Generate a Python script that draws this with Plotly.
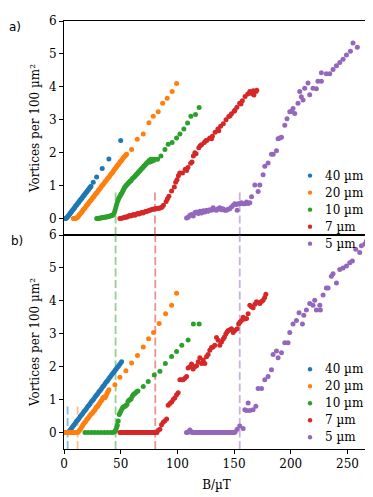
import plotly.graph_objects as go
from plotly.subplots import make_subplots

# ---- data (B in uT, vortices per 100 um^2) ----
names = ['40 µm', '20 µm', '10 µm', '7 µm', '5 µm']
colors = ['#1f77b4', '#ff7f0e', '#2ca02c', '#d62728', '#9467bd']
dash_colors = ['rgba(31,119,180,0.5)', 'rgba(255,127,14,0.5)', 'rgba(44,160,44,0.5)',
               'rgba(214,39,40,0.5)', 'rgba(148,103,189,0.5)']

# panel a)
a_40_B = [1.2, 2.0, 2.8, 3.5, 4.2, 5.0, 5.7, 6.4, 7.1, 7.9, 8.6, 9.3, 10.0, 10.8, 11.5, 12.2, 12.9,
          13.7, 14.4, 15.1, 15.8, 16.6, 17.3, 18.0, 18.7, 19.5, 20.2, 20.9, 21.6, 22.4, 23.1, 23.8,
          25.8, 28.8, 33.7, 39.6, 50.0]
a_40_v = [0.0, 0.01, 0.04, 0.07, 0.1, 0.14, 0.17, 0.2, 0.24, 0.27, 0.3, 0.33, 0.37, 0.4, 0.43, 0.47,
          0.49, 0.53, 0.56, 0.59, 0.62, 0.66, 0.69, 0.72, 0.75, 0.79, 0.82, 0.85, 0.88, 0.92, 0.95, 0.98,
          1.1, 1.26, 1.52, 1.81, 2.37]

a_20_B = [8.2, 9.0, 9.8, 10.6, 11.4, 12.2, 13.1, 14.0, 14.9, 15.8, 16.7, 17.6, 18.5, 19.4, 20.3,
          21.2, 22.1, 23.0, 23.9, 24.8, 25.7, 26.6, 27.5, 28.4, 29.3, 30.2, 31.1, 32.0, 32.9, 33.8,
          34.7, 35.6, 36.5, 37.4, 38.3, 39.2, 40.1, 41.0, 41.9, 42.8, 43.7, 44.6, 45.5, 46.4, 47.3,
          48.2, 49.1, 50.0, 50.9, 51.8, 52.7, 53.6, 54.5, 55.2,
          59.6, 64.6, 69.9, 74.9, 78.7, 83.1, 87.0, 91.0, 95.4, 99.3]
a_20_v = [0.0, 0.0, 0.0, 0.01, 0.03, 0.05, 0.09, 0.13, 0.17, 0.2, 0.25, 0.29, 0.32, 0.37, 0.41,
          0.44, 0.49, 0.53, 0.56, 0.61, 0.65, 0.68, 0.73, 0.77, 0.8, 0.85, 0.89, 0.92, 0.97, 1.01,
          1.04, 1.09, 1.13, 1.16, 1.21, 1.25, 1.28, 1.33, 1.37, 1.4, 1.45, 1.5, 1.53, 1.58, 1.62,
          1.65, 1.7, 1.74, 1.77, 1.82, 1.86, 1.89, 1.93, 1.95,
          2.1, 2.41, 2.57, 2.91, 3.11, 3.24, 3.5, 3.65, 3.86, 4.1]

a_10_B = [28.8, 29.8, 30.8, 31.8, 32.8, 33.8, 34.8, 35.8, 36.8, 37.8, 38.8, 39.8, 40.8, 41.8, 42.8,
          43.6, 44.4, 45.1, 45.8, 46.5, 47.2, 47.9, 48.6, 49.3, 50.0, 50.7, 51.4, 52.1, 52.8, 53.5,
          54.2, 55.0, 55.8, 56.6, 57.4, 58.2, 59.0, 59.8, 60.6, 61.4, 62.2, 63.0, 63.8, 64.6, 65.4,
          66.2, 67.0, 67.8, 68.6, 69.4, 70.2, 71.0, 71.8, 72.6, 73.4, 74.2, 75.0, 75.8, 76.6, 77.4,
          78.2, 79.0, 80.0, 82.5, 85.5, 89.0, 91.9, 95.4, 99.3, 102.2, 105.7, 109.0, 111.9, 116.0, 119.2]
a_10_v = [0.0, 0.01, 0.0, 0.02, 0.02, 0.03, 0.03, 0.04, 0.05, 0.05, 0.06, 0.07, 0.08, 0.09, 0.1,
          0.13, 0.18, 0.26, 0.35, 0.44, 0.52, 0.58, 0.63, 0.68, 0.72, 0.76, 0.8, 0.85, 0.9, 0.95,
          0.98, 1.01, 1.04, 1.07, 1.1, 1.13, 1.15, 1.19, 1.22, 1.25, 1.27, 1.31, 1.34, 1.36, 1.4,
          1.43, 1.45, 1.49, 1.52, 1.54, 1.58, 1.61, 1.63, 1.67, 1.7, 1.72, 1.76, 1.72, 1.8, 1.74,
          1.8, 1.76, 1.8, 1.8, 1.9, 2.1, 2.26, 2.31, 2.45, 2.57, 2.72, 2.9, 3.11, 3.16, 3.37]

a_7_B = [49.3, 50.5, 51.7, 52.9, 54.1, 55.3, 56.5, 57.7, 58.9, 60.1, 61.3, 62.5, 63.7, 64.9, 66.1,
         67.3, 68.5, 69.7, 70.9, 72.1, 73.3, 74.5, 75.7, 76.9, 78.1, 79.3, 80.5, 81.7, 82.9, 84.1,
         85.3, 86.5, 87.7, 90.1, 91.3, 92.5, 94.9, 97.3, 98.5, 99.7, 100.9, 102.1, 104.5, 106.9,
         108.1, 109.3, 111.7, 112.9, 114.1, 115.4, 116.5, 118.9, 120.1, 121.3, 123.7, 125.0, 126.1,
         128.5, 130.1, 130.9, 133.3, 135.7, 136.5, 138.1, 140.5, 142.9, 145.3, 146.5, 147.7, 150.1,
         150.7, 152.5, 154.9, 156.1, 157.3, 159.7, 162.1, 163.9, 165.7, 166.9, 167.5, 169.3, 170.0]
a_7_v = [0.0, 0.01, 0.02, 0.03, 0.05, 0.04, 0.07, 0.09, 0.08, 0.1, 0.12, 0.1, 0.13, 0.15, 0.14,
         0.16, 0.18, 0.17, 0.2, 0.21, 0.22, 0.24, 0.25, 0.27, 0.28, 0.29, 0.3, 0.3, 0.31, 0.31,
         0.33, 0.35, 0.4, 0.52, 0.6, 0.68, 0.84, 0.96, 1.1, 1.18, 1.3, 1.38, 1.38, 1.5,
         1.46, 1.55, 1.68, 1.72, 1.9, 2.0, 1.97, 2.15, 2.21, 2.24, 2.31, 2.36, 2.38,
         2.45, 2.42, 2.5, 2.62, 2.72, 2.67, 2.8, 2.88, 3.0, 3.1, 3.12, 3.18, 3.26,
         3.29, 3.38, 3.5, 3.48, 3.58, 3.71, 3.78, 3.86, 3.8, 3.88, 3.75, 3.86, 3.9]

a_5_B = [108.1, 109.5, 111.0, 112.5, 114.0, 115.5, 116.9, 118.4, 119.9, 121.3, 122.8, 124.2, 125.7,
         127.2, 128.6, 130.1, 131.5, 133.0, 134.5, 135.9, 137.4, 138.8, 140.3, 141.8, 143.3, 144.7,
         146.2, 147.7, 149.2, 150.6, 152.1, 152.7, 153.6, 155.0, 156.5, 158.0, 159.5, 161.0, 162.4,
         163.9, 165.4, 168.3, 171.2, 172.7, 175.6, 177.1, 180.0, 183.0, 184.5, 187.4, 188.8, 190.3,
         191.8, 194.7, 196.7, 199.1, 200.5, 202.0, 203.5, 206.4, 207.9, 209.3, 210.8, 212.3, 215.2,
         216.7, 219.6, 222.6, 224.0, 227.0, 227.0, 231.4, 234.4, 237.3, 240.3, 243.2, 246.1, 249.1,
         252.6, 254.9, 258.7]
a_5_v = [0.02, 0.04, 0.1, 0.12, 0.08, 0.18, 0.2, 0.15, 0.22, 0.17, 0.24, 0.2, 0.25,
         0.22, 0.27, 0.25, 0.33, 0.27, 0.25, 0.3, 0.33, 0.27, 0.3, 0.25, 0.25, 0.28,
         0.3, 0.35, 0.4, 0.45, 0.43, 0.25, 0.45, 0.45, 0.48, 0.45, 0.45, 0.5, 0.46,
         0.48, 0.66, 1.02, 0.82, 1.02, 1.33, 1.59, 1.69, 1.95, 1.95, 2.06, 2.42, 2.45,
         2.47, 2.83, 3.03, 3.24, 3.25, 3.34, 3.19, 3.5, 3.86, 3.7, 3.6, 3.96, 4.12,
         3.76, 3.96, 3.94, 4.17, 4.17, 4.43, 4.4, 4.4, 4.53, 4.64, 4.74, 4.84, 4.97,
         5.08, 5.33, 5.2]

# panel b)
b_40_B = [0.9, 1.6, 2.3, 3.0, 3.7, 4.4, 5.5, 6.6, 7.7, 8.8, 9.9, 11.0, 12.1, 13.2, 14.3, 15.4, 16.5,
          17.6, 18.7, 19.8, 20.9, 22.0, 23.1, 24.2, 25.3, 26.4, 27.5, 28.6, 29.7, 30.8, 31.9, 33.0,
          34.1, 35.2, 36.3, 37.4, 38.5, 39.6, 40.7, 41.8, 42.9, 44.0, 45.1, 46.2, 47.3, 48.4, 49.5, 50.8]
b_40_v = [0.0, 0.0, 0.0, 0.0, 0.0, 0.03, 0.08, 0.13, 0.18, 0.23, 0.28, 0.34, 0.38, 0.43, 0.49, 0.53,
          0.58, 0.64, 0.68, 0.73, 0.79, 0.83, 0.88, 0.94, 0.98, 1.03, 1.09, 1.13, 1.18, 1.24, 1.28,
          1.33, 1.39, 1.43, 1.49, 1.54, 1.58, 1.64, 1.69, 1.74, 1.79, 1.84, 1.89, 1.94, 1.99, 2.04,
          2.09, 2.15]

b_20_B = [1.0, 2.2, 3.4, 4.6, 5.8, 7.0, 8.2, 9.4, 10.6, 11.8, 12.6, 13.5, 14.4, 15.3, 16.2, 17.1,
          18.0, 18.9, 19.8, 20.7, 21.6, 22.5, 23.4, 24.3, 25.2, 26.1, 27.0, 27.9, 28.8, 29.7, 30.6,
          31.5, 32.4, 33.3, 34.2, 35.1, 36.0, 36.9, 37.8, 38.7, 39.6,
          44.9, 49.3, 54.6, 59.6, 64.8, 69.9, 74.6, 79.0, 83.9, 89.6, 94.9, 99.3]
b_20_v = [0.0, 0.0, 0.0, 0.0, 0.0, 0.0, 0.0, 0.0, 0.0, 0.0, 0.02, 0.06, 0.1, 0.15, 0.2, 0.25,
          0.3, 0.33, 0.38, 0.42, 0.45, 0.5, 0.54, 0.57, 0.6, 0.65, 0.68, 0.73, 0.78, 0.8, 0.85,
          0.9, 0.95, 0.98, 1.05, 1.08, 1.06, 1.1, 1.18, 1.24, 1.3,
          1.45, 1.68, 1.88, 2.11, 2.34, 2.6, 2.85, 3.04, 3.31, 3.61, 3.87, 4.23]

b_10_B = [18.5, 21.3, 24.2, 27.0, 29.9, 32.7, 35.6, 38.4, 41.3, 43.4, 44.8, 45.6, 46.4, 47.0, 47.8,
          48.7, 49.5, 50.3, 51.2, 52.0, 52.9, 53.8, 54.6, 55.5, 56.5, 57.4, 58.3, 59.2, 60.2, 61.1,
          62.0, 63.0, 64.0, 65.2, 69.9, 74.3, 79.6, 84.6, 89.4, 94.9, 99.3, 103.9, 109.5, 114.1, 119.2]
b_10_v = [0.0, 0.0, 0.0, 0.0, 0.0, 0.0, 0.0, 0.0, 0.0, 0.0, 0.03, 0.08, 0.15, 0.22, 0.35,
          0.55, 0.6, 0.66, 0.72, 0.77, 0.78, 0.8, 0.82, 0.85, 0.95, 0.98, 1.0, 1.02, 1.1, 1.15,
          1.18, 1.2, 1.24, 1.26, 1.4, 1.55, 1.75, 1.86, 2.1, 2.31, 2.46, 2.65, 2.81, 3.3, 3.3]

b_7_B = [49.3, 50.4, 51.5, 52.6, 53.7, 54.8, 55.9, 57.0, 58.1, 59.2, 60.3, 61.4, 62.5, 63.6, 64.7,
         65.8, 66.9, 68.0, 69.1, 70.2, 71.3, 72.4, 73.5, 74.6, 75.7, 76.8, 77.9, 79.0, 80.1, 81.2,
         81.9, 83.1, 84.6, 86.0, 87.5, 89.0, 90.5, 91.9, 93.4, 94.9, 96.3, 97.8, 99.3, 100.7, 102.2,
         103.7, 105.1, 106.6, 108.1, 109.5, 111.0, 112.5, 113.9, 115.4, 116.9, 118.4, 119.8, 121.3,
         122.8, 124.2, 125.7, 127.1, 128.6, 130.1, 131.5, 133.0, 134.5, 136.0, 137.4, 138.9, 140.4,
         141.5, 142.7, 143.8, 144.8, 146.3, 147.7, 149.2, 150.7, 152.7, 154.0, 155.1, 156.5, 158.0,
         159.5, 161.0, 162.4, 163.9, 165.3, 166.8, 168.3, 169.8, 171.2, 172.7, 174.2, 175.6, 177.0,
         178.0]
b_7_v = [0.0] * 31 + [
         0.07, 0.1, 0.24, 0.31, 0.36, 0.41, 0.83, 0.88, 0.93, 1.0, 1.06, 1.15, 1.21, 1.6,
         1.6, 1.6, 1.65, 1.7, 1.96, 2.0, 2.08, 1.93, 2.0, 2.03, 2.15, 2.27, 2.1,
         2.2, 2.1, 2.3, 2.37, 2.5, 2.58, 2.6, 2.65, 2.89, 2.8, 2.65, 2.75, 2.84,
         2.9, 2.99, 3.05, 3.1, 3.12, 3.15, 3.04, 3.1, 3.15, 3.3, 3.35, 3.4, 3.5,
         3.45, 3.46, 3.61, 3.87, 3.82, 3.79, 3.9, 3.97, 3.95, 3.92, 3.98, 4.02, 4.1,
         4.2]

b_5_B = [108.0, 109.0, 110.0, 111.0, 112.0, 113.0, 114.0, 115.0, 116.0, 117.0, 118.0, 119.0, 120.0,
         121.0, 122.0, 123.0, 124.0, 125.0, 126.0, 127.0, 128.0, 129.0, 130.0, 131.0, 132.0, 133.0,
         134.0, 135.0, 136.0, 137.0, 138.0, 139.0, 140.0, 141.0, 142.0, 143.0, 144.0, 145.0, 146.0,
         147.0, 148.0, 149.0, 150.0, 151.0, 152.7, 155.0, 158.0, 159.5, 161.0, 162.4, 163.9, 166.8,
         169.2, 171.2, 174.2, 177.1, 180.0, 183.0, 184.4, 187.4, 188.8, 191.8, 194.7, 197.6, 199.1,
         202.0, 205.0, 207.3, 210.3, 211.5, 213.8, 216.7, 219.6, 221.1, 222.6, 225.6, 226.1, 228.5,
         231.4, 232.9, 235.8, 237.3, 240.3, 243.2, 246.1, 249.1, 252.0, 254.3, 257.3, 260.8, 262.3,
         265.2, 266.7]
b_5_v = [0.0, 0.0, 0.03, 0.08, 0.03, 0.0, 0.0, 0.0, 0.0, 0.0, 0.0, 0.0, 0.0,
         0.0, 0.0, 0.0, 0.0, 0.0, 0.0, 0.0, 0.0, 0.0, 0.0, 0.0, 0.0, 0.0,
         0.0, 0.0, 0.0, 0.0, 0.0, 0.0, 0.0, 0.0, 0.0, 0.0, 0.0, 0.0, 0.0,
         0.0, 0.0, 0.0, 0.0, 0.02, 0.1, 0.2, 0.12, 0.69, 0.67, 0.9, 0.67, 0.69,
         0.8, 1.34, 1.34, 1.6, 1.7, 1.91, 2.37, 2.48, 2.27, 2.42, 2.73, 2.73, 3.04,
         3.3, 3.4, 3.64, 3.3, 3.56, 3.72, 3.92, 3.87, 4.02, 3.72, 3.87, 3.72, 4.18,
         4.39, 4.39, 4.75, 4.82, 4.54, 4.95, 5.0, 5.06, 5.16, 5.21, 5.57, 5.47, 5.67,
         5.73, 5.81]

# onset fields (dashed markers): (field, top of line, colour index)
onsets_a = [(45.5, 0.85, 2), (80.2, 0.85, 3), (155.0, 0.85, 4)]
onsets_b = [(3.2, 0.9, 0), (12.0, 0.9, 1), (45.5, 6.0, 2), (80.5, 6.0, 3), (155.0, 6.0, 4)]

panel_a = [(a_40_B, a_40_v), (a_20_B, a_20_v), (a_10_B, a_10_v), (a_7_B, a_7_v), (a_5_B, a_5_v)]
panel_b = [(b_40_B, b_40_v), (b_20_B, b_20_v), (b_10_B, b_10_v), (b_7_B, b_7_v), (b_5_B, b_5_v)]

serif = 'DejaVu Serif'
# the page body has an 8px margin, so the figure is drawn 8px smaller and offset by it
fig = make_subplots(rows=2, cols=1, shared_xaxes=True, vertical_spacing=0)

for row, panel, onsets in [(1, panel_a, onsets_a), (2, panel_b, onsets_b)]:
    for (x0, top, ci) in onsets:
        fig.add_shape(type='line', x0=x0, x1=x0, y0=-0.5, y1=top,
                      line=dict(color=dash_colors[ci], width=1.8, dash='8px,3.5px'),
                      layer='below', row=row, col=1)
    for i, (B, v) in enumerate(panel):
        fig.add_scatter(x=B, y=v, mode='markers', name=names[i], showlegend=False,
                        marker=dict(color=colors[i], size=5, line=dict(width=0)),
                        row=row, col=1)

# legends drawn as small circles + labels (matplotlib-like compact spacing)
legend_rows = 16.7 / 420
for y_top in [0.6388, 0.1864]:
    for i, name in enumerate(names):
        yy = y_top - i * legend_rows
        fig.add_shape(type='circle', xref='paper', yref='paper', xsizemode='pixel', ysizemode='pixel',
                      xanchor=0.8066, yanchor=yy, x0=-2.2, x1=2.2, y0=-2.2, y1=2.2,
                      fillcolor=colors[i], line=dict(width=0))
        fig.add_annotation(text=name, x=0.849, y=yy, xref='paper', yref='paper', showarrow=False,
                           xanchor='left', yanchor='middle',
                           font=dict(family=serif, size=12, color='black'))

axis_style = dict(showline=True, linecolor='black', linewidth=1, mirror=True, showgrid=False,
                  zeroline=False, ticks='outside', ticklen=4, tickcolor='black',
                  tickfont=dict(family=serif, size=12, color='black'))

fig.update_yaxes(range=[-0.5, 6], tickvals=[0, 1, 2, 3, 4, 5, 6], **axis_style)
fig.update_yaxes(title=dict(text='Vortices per 100 µm²', font=dict(family=serif, size=12, color='black'),
                            standoff=6))
fig.update_xaxes(range=[0, 269], tickvals=[0, 50, 100, 150, 200, 250], **axis_style)
fig.update_xaxes(ticks='', showticklabels=False, row=1, col=1)
fig.update_xaxes(title=dict(text='B/µT', font=dict(family=serif, size=12, color='black'), standoff=10),
                 row=2, col=1)

fig.add_annotation(text='a)', x=-0.16, y=0.986, xref='paper', yref='paper', showarrow=False,
                   xanchor='center', yanchor='middle',
                   font=dict(family='DejaVu Sans', size=12, color='black'))
fig.add_annotation(text='b)', x=-0.154, y=0.486, xref='paper', yref='paper', showarrow=False,
                   xanchor='center', yanchor='middle',
                   font=dict(family='DejaVu Sans', size=12, color='black'))

fig.update_layout(
    width=365, height=489,
    margin=dict(l=56, r=4, t=13, b=48, autoexpand=False),
    plot_bgcolor='white', paper_bgcolor='white',
    showlegend=False,
)

fig.write_html("out.html")
